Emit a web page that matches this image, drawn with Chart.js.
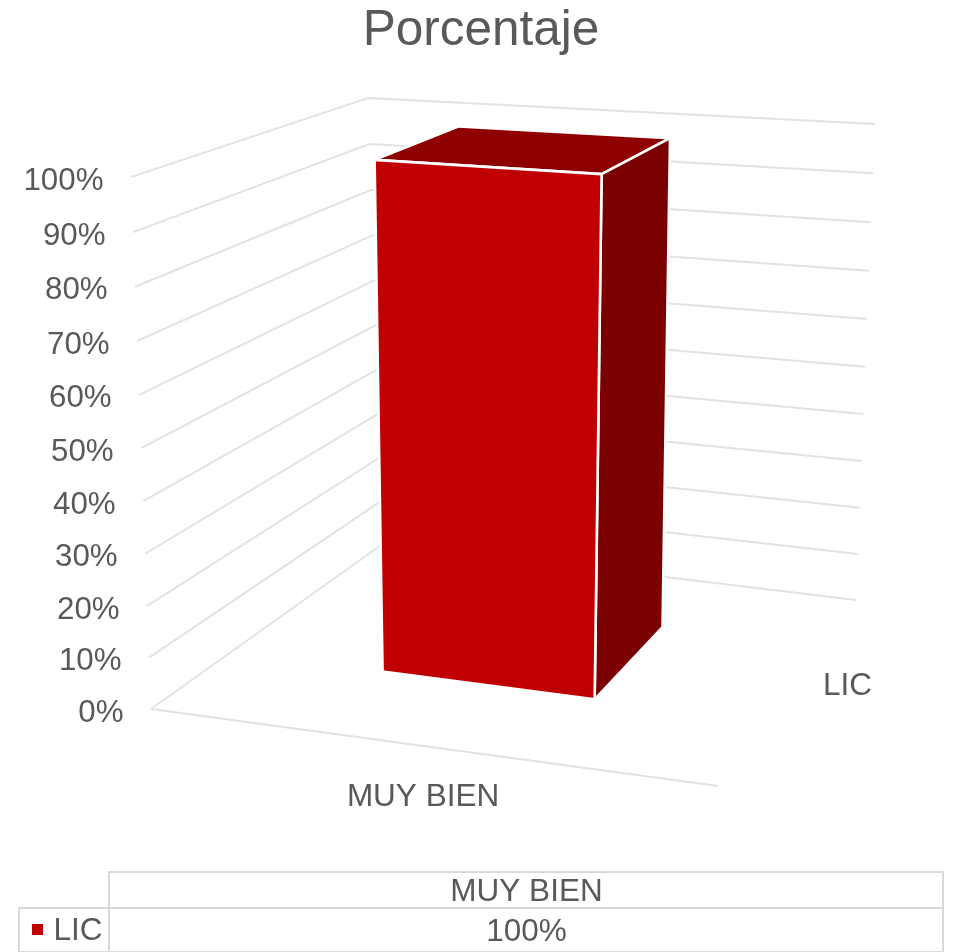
<!DOCTYPE html>
<html>
<head>
<meta charset="utf-8">
<title>Porcentaje</title>
<style>
  html, body { margin: 0; padding: 0; background: #fff; }
  canvas { display: block; }
</style>
<script src="https://cdn.jsdelivr.net/npm/chart.js@4/dist/chart.umd.min.js"></script>
</head>
<body>
<canvas id="chart" width="954" height="952"></canvas>
<script>
const categories = ['MUY BIEN'];
const seriesName = 'LIC';
const seriesValues = [100];

const FONT = '"Liberation Sans", Arial, sans-serif';
const TEXT = '#595959';
const GRID = '#e2e2e2';
const RED = '#c00000';
const RED_TOP = '#8f0000';
const RED_SIDE = '#7b0000';

// corners of the 3D box on screen, [x, y]: floor and ceiling
const floorBox = { left: [151, 709], back: [384, 543], right: [856, 600], front: [718, 786] };
const ceilBox = { left: [131, 177], back: [368, 98], right: [875, 124], front: [737, 218] };
// where the bar sits in depth, and its small shift from the category centre
const depthFront = 0.345;
const depthBack = 0.748;
const barShift = -0.0185;

function lerp(a, b, t) {
  return [a[0] + (b[0] - a[0]) * t, a[1] + (b[1] - a[1]) * t];
}

function onPlane(box, u, v) {
  return lerp(lerp(box.left, box.front, u), lerp(box.back, box.right, u), v);
}

// u along the categories, v into the depth, f share of the value axis
function project(u, v, f) {
  const h = f / (1.04 - 0.04 * f); // slight foreshortening towards the floor
  return lerp(onPlane(floorBox, u, v), onPlane(ceilBox, u, v), h);
}

function shareOf(scale, value) {
  return (scale.bottom - scale.getPixelForValue(value)) / scale.height;
}

function polyline(ctx, pts) {
  ctx.beginPath();
  pts.forEach((p, i) => (i ? ctx.lineTo(p[0], p[1]) : ctx.moveTo(p[0], p[1])));
}

function face(ctx, pts, color) {
  polyline(ctx, pts);
  ctx.closePath();
  ctx.fillStyle = color;
  ctx.fill();
  ctx.strokeStyle = '#fff';
  ctx.lineWidth = 2.6;
  ctx.lineJoin = 'round';
  ctx.stroke();
}

const box3d = {
  id: 'box3d',
  beforeDatasetsDraw(chart) {
    const ctx = chart.ctx;
    const y = chart.scales.y;
    ctx.save();
    ctx.strokeStyle = GRID;
    ctx.lineWidth = 2;
    y.ticks.forEach(tick => {
      const f = shareOf(y, tick.value);
      const pts = [project(0, 0, f), project(0, 1, f), project(1, 1, f)];
      polyline(ctx, pts);
      ctx.stroke();
      // value labels follow the left edge of the box
      ctx.fillStyle = TEXT;
      ctx.font = '31.3px ' + FONT;
      ctx.textAlign = 'right';
      ctx.textBaseline = 'middle';
      ctx.fillText(tick.value + '%', pts[0][0] - 27.5, pts[0][1] + 4);
    });
    polyline(ctx, [project(0, 0, 0), project(1, 0, 0)]);
    ctx.stroke();
    ctx.restore();
  },
  beforeDatasetDraw(chart, args) {
    const ctx = chart.ctx;
    const x = chart.scales.x;
    const y = chart.scales.y;
    ctx.save();
    args.meta.data.forEach((bar, i) => {
      const u0 = (bar.x - bar.width / 2 - x.left) / x.width + barShift;
      const u1 = (bar.x + bar.width / 2 - x.left) / x.width + barShift;
      const f = shareOf(y, seriesValues[i]);
      face(ctx, [project(u0, depthFront, f), project(u0, depthBack, f), project(u1, depthBack, f), project(u1, depthFront, f)], RED_TOP);
      face(ctx, [project(u1, depthFront, f), project(u1, depthBack, f), project(u1, depthBack, 0), project(u1, depthFront, 0)], RED_SIDE);
      face(ctx, [project(u0, depthFront, f), project(u1, depthFront, f), project(u1, depthFront, 0), project(u0, depthFront, 0)], RED);
    });
    ctx.restore();
    return false; // the flat bar is replaced by the 3D one
  },
  afterDraw(chart) {
    const ctx = chart.ctx;
    ctx.save();
    ctx.fillStyle = TEXT;
    ctx.font = '31.5px ' + FONT;
    ctx.textAlign = 'center';
    ctx.textBaseline = 'middle';

    // axis names
    categories.forEach((name, i) => {
      const u = (i + 0.5) / categories.length + barShift;
      const p = project(u, 0, 0);
      ctx.fillText(name, p[0] - 1, p[1] + 51);
    });
    const s = project(1, (depthFront + depthBack) / 2, 0);
    ctx.fillText(seriesName, s[0] + 54, s[1] + 2);

    // data table
    ctx.strokeStyle = '#d9d9d9';
    ctx.lineWidth = 2;
    ctx.strokeRect(109, 872, 834, 36);
    ctx.strokeRect(19, 908, 90, 44);
    ctx.strokeRect(109, 908, 834, 44);
    ctx.fillStyle = TEXT;
    ctx.fillText(categories[0], 526.5, 892);
    ctx.fillText(seriesValues[0] + '%', 526.5, 932);
    ctx.fillText(seriesName, 78, 931);
    ctx.fillStyle = RED;
    ctx.fillRect(32, 924, 11, 11);
    ctx.restore();
  }
};

new Chart(document.getElementById('chart'), {
  type: 'bar',
  data: {
    labels: categories,
    datasets: [{
      label: seriesName,
      data: seriesValues,
      backgroundColor: RED,
      categoryPercentage: 1,
      barPercentage: 0.397
    }]
  },
  options: {
    responsive: false,
    animation: false,
    layout: { padding: { left: 8 } },
    plugins: {
      legend: { display: false },
      tooltip: { enabled: false },
      title: {
        display: true,
        text: 'Porcentaje',
        color: TEXT,
        font: { family: FONT, size: 49.5, weight: 'normal' },
        padding: { top: 2, bottom: 20 }
      }
    },
    scales: {
      x: { display: false },
      y: { display: false, min: 0, max: 100, ticks: { stepSize: 10 } }
    }
  },
  plugins: [box3d]
});
</script>
</body>
</html>
